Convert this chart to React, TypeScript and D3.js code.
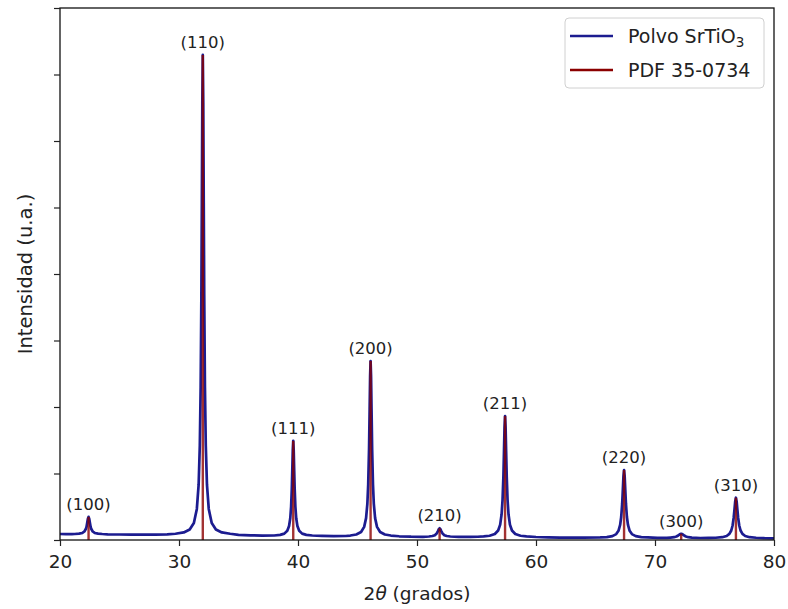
// @ts-nocheck
import * as d3 from "d3";
import { useRef, useEffect } from "react";

// reflections (hkl), their 2θ and heights
const peakLabels = ["(100)", "(110)", "(111)", "(200)", "(210)", "(211)", "(220)", "(300)", "(310)"];
const peakAngles = [22.4, 32.0, 39.6, 46.1, 51.9, 57.4, 67.4, 72.2, 76.8];
const peakCounts = [347, 7294, 1490, 2692, 177, 1863, 1052, 94, 636];

const xTicks = [20, 30, 40, 50, 60, 70, 80];
const yTicks = [0, 1000, 2000, 3000, 4000, 5000, 6000, 7000, 8000];

// measured pattern, [2θ, counts]
const scan = [
  [20.0, 90], [20.5, 88], [21.0, 89], [21.25, 90], [21.6, 95], [21.88, 106], [22.05, 128],
  [22.17, 165], [22.23, 200], [22.28, 252], [22.34, 317], [22.4, 348], [22.46, 317],
  [22.52, 252], [22.57, 200], [22.63, 165], [22.75, 128], [22.92, 106], [23.2, 95],
  [23.55, 90], [24.0, 86], [25.0, 83], [26.0, 81], [27.0, 80], [28.0, 81], [29.0, 86],
  [29.7, 94], [30.4, 114], [30.9, 159], [31.25, 255], [31.5, 467], [31.65, 832],
  [31.75, 1424], [31.82, 2298], [31.88, 3684], [31.92, 5070], [31.96, 6572], [32.0, 7294],
  [32.04, 6572], [32.08, 5070], [32.12, 3684], [32.18, 2298], [32.25, 1424], [32.35, 832],
  [32.5, 467], [32.75, 255], [33.1, 159], [33.6, 114], [34.3, 94], [35.0, 78], [36.0, 70],
  [37.0, 66], [38.0, 68], [38.5, 77], [38.85, 96], [39.1, 138], [39.25, 210], [39.35, 327],
  [39.42, 500], [39.48, 775], [39.52, 1050], [39.56, 1347], [39.6, 1490], [39.64, 1347],
  [39.68, 1050], [39.72, 775], [39.78, 500], [39.85, 327], [39.95, 210], [40.1, 138],
  [40.35, 96], [40.7, 77], [41.2, 68], [42.0, 62], [43.0, 58], [44.0, 60], [44.4, 67],
  [44.9, 83], [45.3, 120], [45.56, 197], [45.72, 329], [45.83, 548], [45.9, 836],
  [45.97, 1372], [46.02, 1966], [46.06, 2462], [46.1, 2692], [46.14, 2462], [46.18, 1966],
  [46.23, 1372], [46.3, 836], [46.37, 548], [46.48, 329], [46.64, 197], [46.9, 120],
  [47.3, 83], [47.8, 67], [48.5, 56], [49.5, 50], [50.5, 48], [51.0, 53], [51.3, 60],
  [51.5, 73], [51.65, 98], [51.75, 130], [51.82, 159], [51.9, 177], [51.98, 159],
  [52.05, 130], [52.15, 98], [52.3, 73], [52.5, 60], [52.8, 53], [53.5, 48], [54.5, 46],
  [55.1, 49], [55.6, 54], [56.1, 64], [56.54, 90], [56.82, 143], [56.99, 232], [57.11, 387],
  [57.19, 604], [57.26, 953], [57.31, 1332], [57.355, 1692], [57.4, 1863], [57.445, 1692],
  [57.49, 1332], [57.54, 953], [57.61, 604], [57.69, 387], [57.81, 232], [57.98, 143],
  [58.26, 90], [58.7, 64], [59.2, 54], [60.0, 45], [61.0, 40], [62.0, 37], [63.0, 37],
  [64.0, 36], [65.4, 39], [65.95, 44], [66.42, 59], [66.74, 89], [66.93, 138], [67.07, 226],
  [67.16, 346], [67.24, 542], [67.3, 765], [67.35, 961], [67.4, 1052], [67.45, 961],
  [67.5, 765], [67.56, 542], [67.64, 346], [67.73, 226], [67.87, 138], [68.06, 89],
  [68.38, 59], [68.85, 44], [69.4, 39], [70.2, 32], [71.0, 31], [71.3, 36], [71.6, 42],
  [71.8, 52], [71.95, 67], [72.08, 85], [72.2, 94], [72.32, 85], [72.45, 67], [72.6, 52],
  [72.8, 42], [73.1, 36], [73.8, 30], [74.5, 31], [75.1, 34], [75.65, 42], [76.02, 60],
  [76.25, 91], [76.41, 143], [76.52, 218], [76.61, 331], [76.68, 462], [76.74, 580],
  [76.8, 636], [76.86, 580], [76.92, 462], [76.99, 331], [77.08, 218], [77.19, 143],
  [77.35, 91], [77.58, 60], [77.95, 42], [78.5, 34], [79.2, 27], [80.0, 24],
];

const width = 788;
const height = 609;
const marginTop = 8;
const marginRight = 14;
const marginBottom = 69;
const marginLeft = 60;
const font = "DejaVu Sans, sans-serif";
const blue = "#1c1c90";
const red = "#8b0000";

export default function App() {
  const gx = useRef();
  const gy = useRef();

  const x = d3.scaleLinear([20, 80], [marginLeft, width - marginRight]);
  const y = d3.scaleLinear([0, 8000], [height - marginBottom, marginTop]);

  useEffect(() => {
    const ax = d3.select(gx.current);
    ax.call(d3.axisBottom(x).tickValues(xTicks).tickSize(6).tickPadding(9).tickFormat(d3.format("d")));
    ax.select(".domain").remove();
    ax.selectAll("line").attr("stroke", "#222").attr("stroke-width", 1.2);
    ax.selectAll("text").attr("font-family", font).attr("font-size", 18.5).attr("fill", "#222");
    const ay = d3.select(gy.current);
    ay.call(d3.axisLeft(y).tickValues(yTicks).tickSize(6).tickFormat(() => ""));
    ay.select(".domain").remove();
    ay.selectAll("line").attr("stroke", "#222").attr("stroke-width", 1.2);
  }, []);

  const line = d3
    .line()
    .x((d) => x(d[0]))
    .y((d) => y(d[1]));

  return (
    <svg width={width} height={height} style={{ position: "absolute", left: 0, top: 0, background: "#fff" }}>
      <path d={line(scan)} fill="none" stroke={blue} strokeWidth={2.7} strokeLinejoin="round" />
      <g stroke={red} strokeWidth={2.4} strokeOpacity={0.8}>
        {peakAngles.map((a, i) => (
          <line key={"s" + i} x1={x(a)} x2={x(a)} y1={y(0)} y2={y(peakCounts[i])} />
        ))}
      </g>
      <g fontFamily={font} fontSize={16.5} fill="#222" textAnchor="middle">
        {peakAngles.map((a, i) => (
          <text key={"t" + i} x={x(a)} y={y(peakCounts[i]) - 7}>
            {peakLabels[i]}
          </text>
        ))}
      </g>
      <rect
        x={marginLeft}
        y={marginTop}
        width={width - marginLeft - marginRight}
        height={height - marginTop - marginBottom}
        fill="none"
        stroke="#111"
        strokeWidth={1.3}
      />
      <g ref={gx} transform={`translate(0,${height - marginBottom})`} />
      <g ref={gy} transform={`translate(${marginLeft},0)`} />
      <text
        x={(marginLeft + width - marginRight) / 2}
        y={600}
        textAnchor="middle"
        fontFamily={font}
        fontSize={18.5}
        fill="#222"
      >
        2<tspan fontStyle="italic">θ</tspan> (grados)
      </text>
      <text
        transform={`translate(32,${(marginTop + height - marginBottom) / 2}) rotate(-90)`}
        textAnchor="middle"
        fontFamily={font}
        fontSize={19.5}
        fill="#222"
      >
        Intensidad (u.a.)
      </text>
      <g fontFamily={font} fontSize={19} fill="#222">
        <rect x={565} y={18} width={199} height={70} rx={4} fill="#fff" fillOpacity={0.8} stroke="#d0d0d0" />
        <line x1={570} x2={613} y1={36} y2={36} stroke={blue} strokeWidth={2.5} />
        <line x1={570} x2={613} y1={70} y2={70} stroke={red} strokeWidth={2.5} />
        <text x={628} y={43}>
          Polvo SrTiO<tspan fontSize={13.5} dy={4}>3</tspan>
        </text>
        <text x={628} y={77}>PDF 35-0734</text>
      </g>
    </svg>
  );
}
